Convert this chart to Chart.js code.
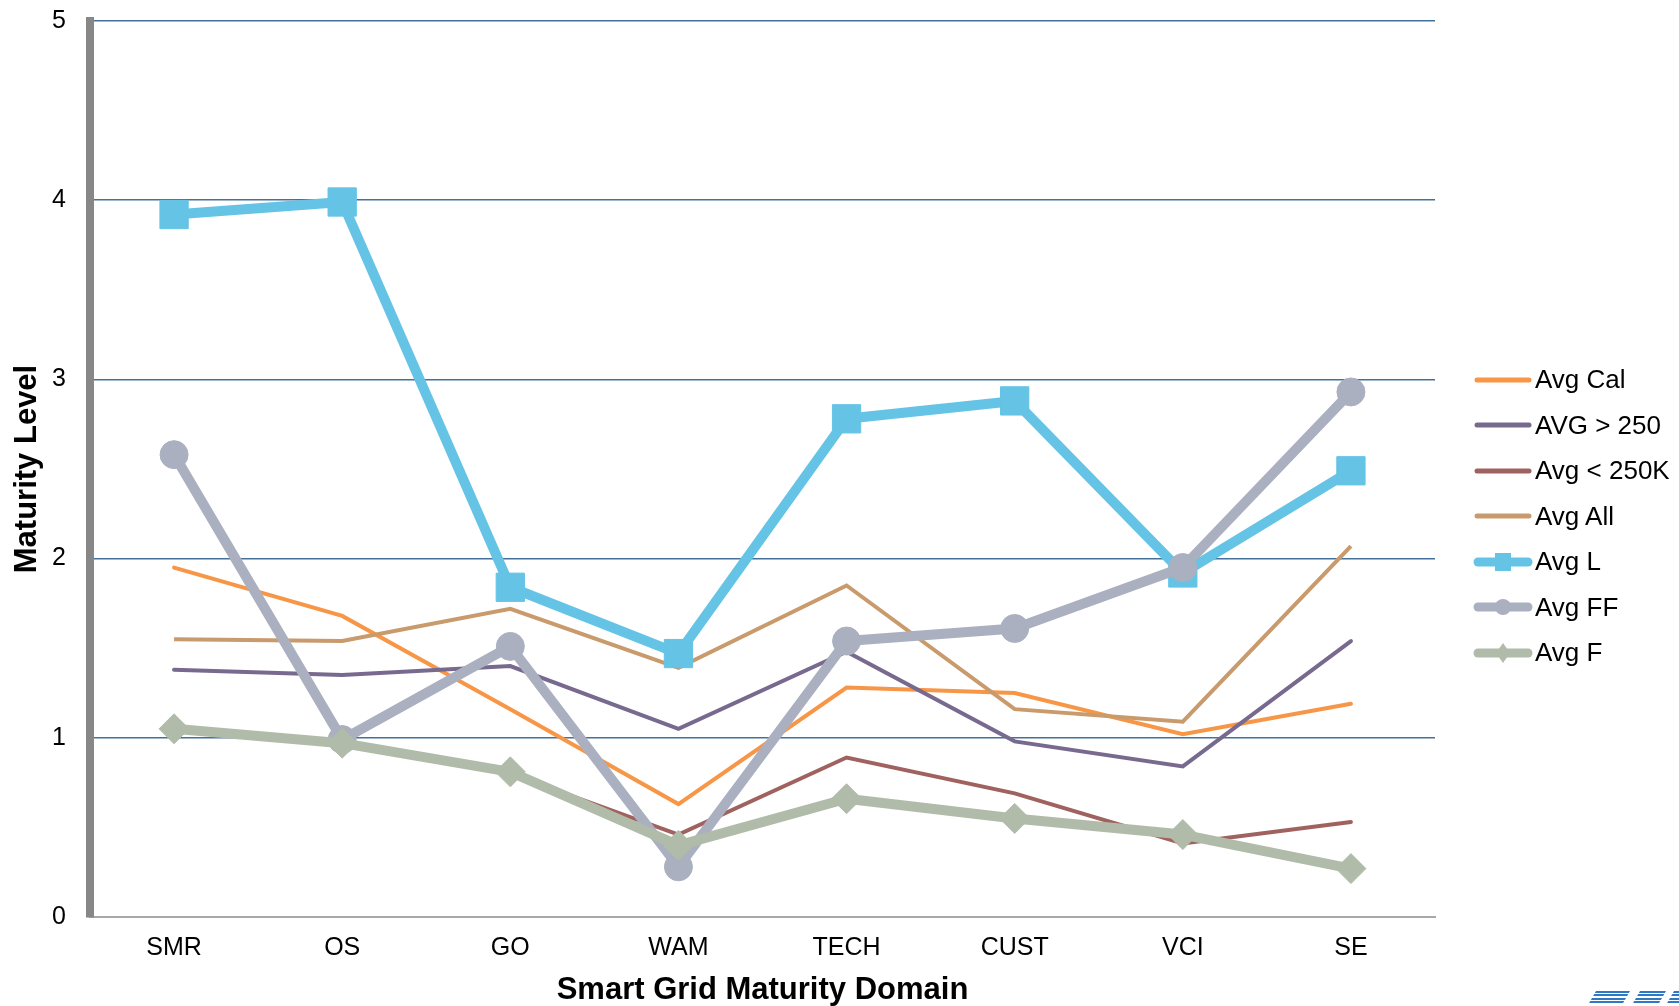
<!DOCTYPE html>
<html>
<head>
<meta charset="utf-8">
<script src="https://cdn.jsdelivr.net/npm/chart.js@4.4.1/dist/chart.umd.min.js"></script>
<style>
  html, body { margin: 0; padding: 0; background: #fff; }
  #wrap { position: relative; width: 1679px; height: 1006px; overflow: hidden; font-family: 'Liberation Sans', Arial, sans-serif; }
  #legend { position: absolute; left: 1472px; top: 357px; }
  .row { display: flex; align-items: center; height: 45.5px; }
  .row span { font-size: 26px; color: #000; margin-left: 1px; white-space: nowrap; }
  #logo { position: absolute; left: 1586px; top: 991px; width: 100px; height: 15px; }
  #logo i { position: absolute; top: 0; height: 14px; transform: skewX(-30deg);
    background: repeating-linear-gradient(#2f78c4 0 2px, #fff 2px 3.5px); }
</style>
</head>
<body>
<div id="wrap">
  <canvas id="chart"></canvas>
  <div id="legend"></div>
  <div id="logo"><i style="left:6px;width:34px"></i><i style="left:50px;width:26px"></i><i style="left:84px;width:20px"></i></div>
</div>
<script>
// 범주 (x축)
const domains = ['SMR', 'OS', 'GO', 'WAM', 'TECH', 'CUST', 'VCI', 'SE'];

// 시리즈 값
const avgCal   = [1.95, 1.68, 1.16, 0.63, 1.28, 1.25, 1.02, 1.19];
const avgGt250 = [1.38, 1.35, 1.40, 1.05, 1.48, 0.98, 0.84, 1.54];
const avgLt250 = [1.04, 0.96, 0.80, 0.46, 0.89, 0.69, 0.41, 0.53];
const avgAll   = [1.55, 1.54, 1.72, 1.39, 1.85, 1.16, 1.09, 2.07];
const avgL     = [3.92, 3.99, 1.84, 1.47, 2.78, 2.88, 1.92, 2.49];
const avgFF    = [2.58, 0.99, 1.51, 0.28, 1.54, 1.61, 1.95, 2.93];
const avgF     = [1.05, 0.97, 0.81, 0.40, 0.66, 0.55, 0.46, 0.27];

// y축 눈금
const yTicks = [0, 1, 2, 3, 4, 5];

const FONT = "'Liberation Sans', Arial, sans-serif";

const canvas = document.getElementById('chart');
canvas.width = 1679;
canvas.height = 1006;

// 얇은 선
const thin = (label, data, color, order, cap) => ({
    label: label,
    data: data,
    borderColor: color,
    backgroundColor: color,
    borderWidth: 4,
    borderCapStyle: cap || 'round',
    borderJoinStyle: 'miter',
    pointRadius: 0,
    pointHoverRadius: 0,
    tension: 0,
    order: order,
    marker: null
});

// 굵은 선 + 마커
const thick = (label, data, color, order, style, radius) => ({
    label: label,
    data: data,
    borderColor: color,
    backgroundColor: color,
    borderWidth: 10,
    borderJoinStyle: 'round',
    pointStyle: style,
    pointRadius: radius,
    pointHoverRadius: radius,
    pointBackgroundColor: color,
    pointBorderColor: color,
    pointBorderWidth: 1,
    tension: 0,
    order: order,
    marker: style
});

const datasets = [
    thin('Avg Cal', avgCal, '#f79646', 7),
    thin('AVG > 250', avgGt250, '#78698f', 6),
    thin('Avg < 250K', avgLt250, '#a0625f', 5),
    thin('Avg All', avgAll, '#c99a6c', 4, 'butt'),
    thick('Avg L', avgL, '#65c4e5', 3, 'rect', 20),
    thick('Avg FF', avgFF, '#aab0c0', 2, 'circle', 14),
    thick('Avg F', avgF, '#b0bca9', 1, 'rectRot', 15)
];

const config = {
    type: 'line',
    data: { labels: domains, datasets: datasets },
    options: {
        responsive: false,
        animation: false,
        layout: { padding: { top: 21, right: 244, bottom: 0, left: 0 } },
        plugins: {
            legend: { display: false },
            title: { display: false },
            tooltip: { enabled: false }
        },
        scales: {
            x: {
                offset: true,
                grid: { display: false, drawTicks: false },
                border: { display: true, color: '#a8a8a8', width: 2 },
                ticks: { color: '#000', padding: 16, font: { family: FONT, size: 25 } },
                title: {
                    display: true,
                    text: 'Smart Grid Maturity Domain',
                    color: '#000',
                    padding: { top: 0, bottom: 0 },
                    font: { family: FONT, size: 31, weight: 'bold', lineHeight: 1.0 }
                },
                afterFit: (scale) => { scale.height = 89; }
            },
            y: {
                min: 0,
                max: 5,
                afterBuildTicks: (scale) => { scale.ticks = yTicks.map(v => ({ value: v })); },
                grid: {
                    drawTicks: false,
                    lineWidth: 1.5,
                    color: (ctx) => ctx.tick && ctx.tick.value === 0 ? 'rgba(0,0,0,0)' : '#44709c'
                },
                border: { display: true, color: '#878787', width: 8 },
                ticks: { color: '#000', padding: 24, font: { family: FONT, size: 25 } },
                title: {
                    display: true,
                    text: 'Maturity Level',
                    color: '#000',
                    padding: { top: 10, bottom: 0 },
                    font: { family: FONT, size: 31, weight: 'bold', lineHeight: 1.1 }
                },
                afterFit: (scale) => {
                    scale.width = 90;
                    scale.paddingTop = 0;
                    scale.paddingBottom = 0;
                }
            }
        }
    }
};

const chart = new Chart(canvas.getContext('2d'), config);

// 범례 (HTML)
const legend = document.getElementById('legend');
const svgNS = 'http://www.w3.org/2000/svg';
datasets.forEach(ds => {
    const row = document.createElement('div');
    row.className = 'row';
    const svg = document.createElementNS(svgNS, 'svg');
    svg.setAttribute('width', '62');
    svg.setAttribute('height', '30');
    const line = document.createElementNS(svgNS, 'line');
    line.setAttribute('x1', ds.marker ? 6 : 5);
    line.setAttribute('x2', ds.marker ? 56 : 57);
    line.setAttribute('y1', 15);
    line.setAttribute('y2', 15);
    line.setAttribute('stroke', ds.borderColor);
    line.setAttribute('stroke-width', ds.marker ? 9 : 5);
    line.setAttribute('stroke-linecap', 'round');
    svg.appendChild(line);
    let m = null;
    if (ds.marker === 'rect') {
        m = document.createElementNS(svgNS, 'rect');
        m.setAttribute('x', 23); m.setAttribute('y', 6);
        m.setAttribute('width', 16); m.setAttribute('height', 18);
    } else if (ds.marker === 'circle') {
        m = document.createElementNS(svgNS, 'circle');
        m.setAttribute('cx', 31); m.setAttribute('cy', 15); m.setAttribute('r', 8);
    } else if (ds.marker === 'rectRot') {
        m = document.createElementNS(svgNS, 'polygon');
        m.setAttribute('points', '31,5 38,15 31,25 24,15');
    }
    if (m) { m.setAttribute('fill', ds.borderColor); svg.appendChild(m); }
    row.appendChild(svg);
    const txt = document.createElement('span');
    txt.textContent = ds.label;
    row.appendChild(txt);
    legend.appendChild(row);
});
</script>
</body>
</html>
